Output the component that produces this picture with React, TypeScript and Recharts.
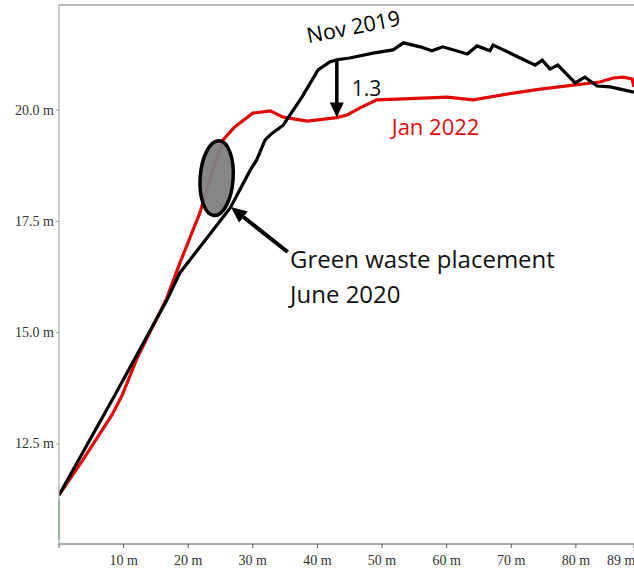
import React from 'react';
import { LineChart, Line, XAxis, YAxis, ReferenceLine, ReferenceDot } from 'recharts';

// Surveyed profile, Nov 2019 (distance in m, elevation in m)
const novDist = [0, 8.4, 16.7, 18.7, 26.5, 29.6, 30.6, 31.9, 33.0, 34.7, 37.6, 40.1, 41.9, 43.0, 45.0, 48.6, 51.7, 53.3, 55.9, 57.7, 59.4, 63.2, 64.7, 66.7, 67.2, 73.7, 74.8, 76.0, 77.2, 79.9, 81.4, 83.3, 85.3, 89.0];
const novElev = [11.35, 13.53, 15.73, 16.34, 17.8, 18.65, 18.88, 19.33, 19.48, 19.66, 20.29, 20.9, 21.08, 21.13, 21.17, 21.28, 21.35, 21.51, 21.42, 21.33, 21.42, 21.26, 21.44, 21.33, 21.46, 21.01, 21.12, 20.92, 21.01, 20.61, 20.74, 20.54, 20.52, 20.4];

// Surveyed profile, Jan 2022
const janDist = [0, 3.7, 8.2, 9.8, 12.1, 16.7, 18.7, 21.8, 23.8, 25.4, 27.2, 28.0, 30.0, 32.7, 34.7, 38.4, 43.0, 44.6, 46.6, 49.2, 53.3, 60.1, 64.1, 70.3, 74.5, 79.6, 83.7, 85.8, 87.3, 88.7, 89.0];
const janElev = [11.35, 12.14, 13.15, 13.6, 14.43, 15.78, 16.56, 17.69, 18.65, 19.33, 19.62, 19.71, 19.93, 19.98, 19.84, 19.75, 19.83, 19.89, 20.05, 20.23, 20.25, 20.29, 20.23, 20.38, 20.47, 20.56, 20.63, 20.72, 20.74, 20.7, 20.52];

const xTicks = [0, 10, 20, 30, 40, 50, 60, 70, 80, 89];
const yTicks = [12.5, 15.0, 17.5, 20.0];

// settlement between surveys at the 43 m station
const gapDist = 43;
const gapValue = 1.3;
const gapTop = novElev[novDist.indexOf(gapDist)];

const novData = novDist.map((d, i) => ({ dist: d, elev: novElev[i] }));
const janData = janDist.map((d, i) => ({ dist: d, elev: janElev[i] }));

const RED = '#e10a0a';
const NOTE_FONT = '"Open Sans", sans-serif';
const AXIS_FONT = '"Liberation Serif", serif';

const XTick = (props: any) => {
  const { x, y, payload } = props;
  if (payload.value === 0) return null;
  const last = payload.value === 89;
  return (
    <text x={last ? x - 27 : x} y={y} dy={15} textAnchor={last ? 'start' : 'middle'}
      fontFamily={AXIS_FONT} fontSize={14} fill="#333">
      {payload.value} m
    </text>
  );
};

const YTick = (props: any) => {
  const { x, y, payload } = props;
  return (
    <text x={x} y={y} dy={4.5} textAnchor="end" fontFamily={AXIS_FONT} fontSize={14} fill="#333">
      {payload.value.toFixed(1)} m
    </text>
  );
};

// vertical arrow showing the drop, with its value beside it
const GapArrow = (props: any) => {
  const { x1, y1, y2 } = props;
  const head = 15;
  return (
    <g>
      <line x1={x1} y1={y1} x2={x1} y2={y2 - head + 2} stroke="#000" strokeWidth={3.5} />
      <polygon points={`${x1 - 7},${y2 - head} ${x1 + 7},${y2 - head} ${x1},${y2}`} fill="#000" />
      <text x={x1 + 15} y={(y1 + y2) / 2 + 7} fontFamily={NOTE_FONT} fontSize={21} fill="#111">
        {gapValue.toFixed(1)}
      </text>
    </g>
  );
};

// leader arrow pointing at the placement zone
const LeaderArrow = (props: any) => {
  const { x1, y1, x2, y2 } = props;
  const ang = Math.atan2(y2 - y1, x2 - x1);
  const len = 16;
  const w = 7;
  const bx = x2 - len * Math.cos(ang);
  const by = y2 - len * Math.sin(ang);
  const px = -Math.sin(ang) * w;
  const py = Math.cos(ang) * w;
  return (
    <g>
      <line x1={x1} y1={y1} x2={bx} y2={by} stroke="#000" strokeWidth={4} />
      <polygon points={`${x2},${y2} ${bx + px},${by + py} ${bx - px},${by - py}`} fill="#000" />
    </g>
  );
};

const Zone = (props: any) => (
  <ellipse cx={props.cx} cy={props.cy} rx={16.5} ry={37.5} fill="#808080" fillOpacity={0.95}
    stroke="#000" strokeWidth={3.5} transform={`rotate(4 ${props.cx} ${props.cy})`} />
);

const note = (lines: string[], color: string, size: number, rotate = 0) => (props: any) => (
  <text x={props.cx} y={props.cy} fontFamily={NOTE_FONT} fontSize={size} fill={color}
    transform={rotate ? `rotate(${rotate} ${props.cx} ${props.cy})` : undefined}>
    {lines.map((t, i) => (
      <tspan key={t} x={props.cx} dy={i === 0 ? 0 : 35}>{t}</tspan>
    ))}
  </text>
);

export default function App() {
  return (
    <div style={{ position: 'absolute', left: 0, top: 0, background: '#fff' }}>
      <LineChart width={634} height={573} margin={{ top: 5, right: 0, bottom: 0, left: 0 }}>
        <XAxis dataKey="dist" type="number" domain={[0, 89]} ticks={xTicks} allowDataOverflow
          height={29} tickSize={4} stroke="#555" tick={<XTick />} interval={0} />
        <YAxis dataKey="elev" type="number" domain={[10.25, 22.36]} ticks={yTicks} allowDataOverflow
          width={59} tickSize={3} stroke="#999" tick={<YTick />} interval={0} />
        <ReferenceLine y={22.36} stroke="#777" strokeWidth={1} />
        <ReferenceLine segment={[{ x: 0, y: 10.34 }, { x: 0, y: 11.24 }]} stroke="#3c9c3c" strokeWidth={1} />

        <Line data={janData} dataKey="elev" type="linear" stroke={RED} strokeWidth={3.2}
          dot={false} activeDot={false} isAnimationActive={false} />
        <Line data={novData} dataKey="elev" type="linear" stroke="#000" strokeWidth={3.2}
          dot={false} activeDot={false} isAnimationActive={false} />

        <ReferenceLine segment={[{ x: gapDist, y: gapTop }, { x: gapDist, y: gapTop - gapValue }]}
          shape={<GapArrow />} />
        <ReferenceDot x={24.4} y={18.47} r={0} shape={<Zone />} />
        <ReferenceLine segment={[{ x: 35.4, y: 16.81 }, { x: 26.6, y: 17.82 }]} shape={<LeaderArrow />} />

        <ReferenceDot x={38.6} y={21.5} r={0} shape={note(['Nov 2019'], '#000', 21.5, -11)} />
        <ReferenceDot x={51.5} y={19.43} r={0} shape={note(['Jan 2022'], RED, 22)} />
        <ReferenceDot x={35.76} y={16.45} r={0} shape={note(['Green waste placement', 'June 2020'], '#111', 24)} />
      </LineChart>
    </div>
  );
}
